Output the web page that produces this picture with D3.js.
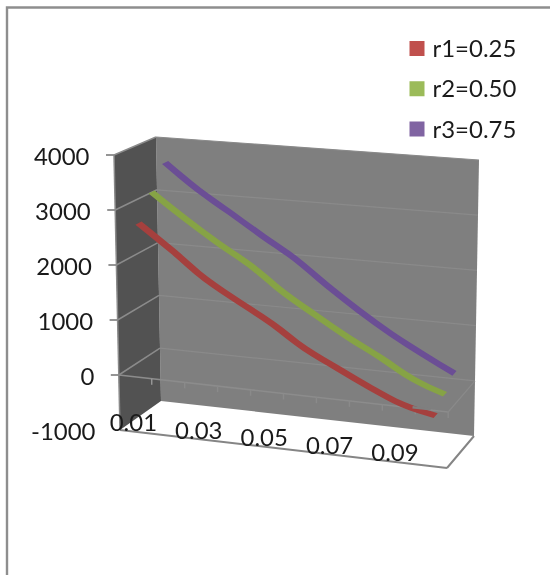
<!DOCTYPE html>
<html lang="en">
<head>
<meta charset="UTF-8">
<script src="https://d3js.org/d3.v7.min.js"></script>
<style>
    html, body {margin: 0; padding: 0; background: #fff; overflow: hidden}
    svg {display: block; filter: blur(0.45px)}
    text {font-family: Lato, "Open Sans", sans-serif; fill: #1a1a1a}
</style>
</head>
<body>
<svg class="chart" width="550" height="575"></svg>
<script>
const categories = ['0.01', '0.02', '0.03', '0.04', '0.05', '0.06', '0.07', '0.08', '0.09', '0.10'];
const shownCategories = ['0.01', '0.03', '0.05', '0.07', '0.09'];
const valueTicks = [-1000, 0, 1000, 2000, 3000, 4000];
const seriesNames = ['r1=0.25', 'r2=0.50', 'r3=0.75'];
const r1 = [2736, 2295, 1835, 1485, 1153, 764, 470, 190, -50, -180];
const r2 = [3183, 2750, 2352, 1993, 1559, 1200, 857, 554, 231, 19];
const r3 = [3607, 3148, 2764, 2380, 2015, 1574, 1170, 806, 495, 206];

const series = [r1, r2, r3];
const ribbonColors = ['#a5403e', '#86a345', '#6b4e95'];
const legendColors = ['#c0504d', '#9bbb59', '#8064a2'];
const seriesDepth = [0.15, 0.48, 0.82];
const ribbonHalf = 0.075;

// the eight corners of the chart box, [u, v, w]: along categories, up values, into the page
const box = {
    '000': [120, 430], '100': [447, 468], '010': [114, 155], '110': [453, 188],
    '001': [161, 401], '101': [474, 436], '011': [156, 137], '111': [479, 160]
};
function project(u, v, w) {
    const out = [0, 0];
    for (const a of [0, 1]) for (const b of [0, 1]) for (const c of [0, 1]) {
        const k = (a ? u : 1 - u) * (b ? v : 1 - v) * (c ? w : 1 - w);
        const p = box['' + a + b + c];
        out[0] += k * p[0];
        out[1] += k * p[1];
    }
    return out;
}

const uScale = d3.scalePoint().domain(categories).range([0, 1]).padding(0.5);
const uBand = d3.scaleBand().domain(categories).range([0, 1]);
const vScale = d3.scaleLinear().domain([-1000, 4000]).range([0, 1]);

const svg = d3.select('.chart');
const poly = pts => 'M' + pts.map(p => p.join(',')).join('L') + 'Z';
const seg = (a, b) => 'M' + a.join(',') + 'L' + b.join(',');

// the reference text is Calibri-like and stretched sideways
function label(x, y, txt, anchor) {
    svg.append('text').attr('transform', `translate(${x},${y}) scale(1.07,1)`)
        .attr('text-anchor', anchor).attr('dominant-baseline', 'central')
        .attr('font-size', 22.4).text(txt);
}

// sheet border, open on the right and at the bottom
svg.append('path').attr('d', 'M7,575V7.5H550').attr('fill', 'none')
    .attr('stroke', '#8e8e8e').attr('stroke-width', 2.4);

// walls
svg.append('path').attr('fill', '#7f7f7f')
    .attr('d', poly([project(0, 0, 1), project(1, 0, 1), project(1, 1, 1), project(0, 1, 1)]));
svg.append('path').attr('fill', '#525252')
    .attr('d', poly([project(0, 0, 0), project(0, 0, 1), project(0, 1, 1), project(0, 1, 0)]));

// floor edges and left edge
svg.append('path').attr('fill', 'none').attr('stroke', '#858585').attr('stroke-width', 2)
    .attr('d', seg(project(0, 0, 0), project(1, 0, 0)) + seg(project(1, 0, 0), project(1, 0, 1)));
svg.append('path').attr('fill', 'none').attr('stroke', '#8a8a8a').attr('stroke-width', 1.5)
    .attr('d', seg(project(0, 0, 0), project(0, 1, 0)));

// gridlines
valueTicks.forEach(d => {
    const v = vScale(d);
    if (d > -1000) {
        svg.append('path').attr('fill', 'none').attr('stroke', '#8b8b8b').attr('stroke-width', 1.5)
            .attr('d', seg(project(0, v, 0), project(0, v, 1)));
        svg.append('path').attr('fill', 'none').attr('stroke', '#8a8a8a').attr('stroke-width', 1.2)
            .attr('d', seg(project(0, v, 1), project(1, v, 1)));
    }
    const p = project(0, v, 0);
    if (d > -1000) {
        svg.append('line').attr('x1', p[0] - 8).attr('x2', p[0]).attr('y1', p[1]).attr('y2', p[1])
            .attr('stroke', '#8a8a8a').attr('stroke-width', 1.8);
    }
    label(p[0] - 24.5, p[1] + 1.5, d, 'end');
});

// the category axis runs along value 0
const v0 = vScale(0);
svg.append('path').attr('fill', 'none').attr('stroke', '#8c8c8c').attr('stroke-width', 1.6)
    .attr('d', seg(project(0, v0, 0), project(1, v0, 0)));
svg.append('path').attr('fill', 'none').attr('stroke', '#8a8a8a').attr('stroke-width', 1.2)
    .attr('d', seg(project(1, v0, 0), project(1, v0, 1)));
d3.range(1, categories.length + 1).forEach(i => {
    const p = project(i / categories.length, v0, 0);
    svg.append('line').attr('x1', p[0]).attr('x2', p[0]).attr('y1', p[1]).attr('y2', p[1] + 6)
        .attr('stroke', i === 1 ? '#9a9a9a' : '#8a8a8a').attr('stroke-width', 1.4);
});

// series ribbons
series.forEach((values, s) => {
    const w = seriesDepth[s];
    const ribbon = d3.area()
        .x0((d, i) => project(uScale(categories[i]), vScale(d), w - ribbonHalf)[0])
        .y0((d, i) => project(uScale(categories[i]), vScale(d), w - ribbonHalf)[1])
        .x1((d, i) => project(uScale(categories[i]), vScale(d), w + ribbonHalf)[0])
        .y1((d, i) => project(uScale(categories[i]), vScale(d), w + ribbonHalf)[1])
        .curve(d3.curveMonotoneX);
    svg.append('path').attr('fill', ribbonColors[s]).attr('d', ribbon(values));
});

// r1 is cut where it falls through the value 0 plane
svg.append('path').attr('fill', 'none').attr('stroke', '#7f7f7f').attr('stroke-width', 2.4)
    .attr('d', seg(project(0.89, v0, 0.02), project(0.945, v0, 0.02)));

// category labels
shownCategories.forEach(c => {
    const p = project(uBand(c) + uBand.bandwidth() / 2, 0, 0);
    label(p[0] - 3, p[1] - 9.5, c, 'middle');
});

// legend
const legendY = d3.scalePoint().domain(seriesNames).range([48.5, 129]);
seriesNames.forEach((name, s) => {
    const y = legendY(name);
    svg.append('rect').attr('x', 409.5).attr('y', y - 7.5).attr('width', 15).attr('height', 15)
        .attr('fill', legendColors[s]);
    label(432.5, y, name, 'start');
});
</script>
</body>
</html>
